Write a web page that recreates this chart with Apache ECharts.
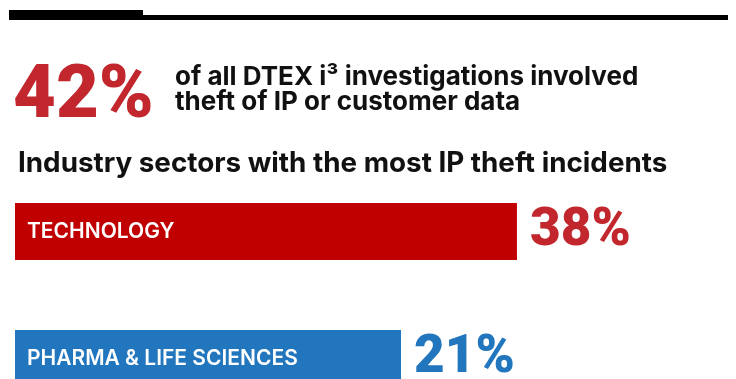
<!DOCTYPE html>
<html>
<head>
<meta charset="utf-8">
<script src="https://cdn.jsdelivr.net/npm/echarts@6/dist/echarts.min.js"></script>
<style>
  html, body { margin: 0; padding: 0; background: #fff; }
  #chart { width: 736px; height: 379px; }
</style>
</head>
<body>
<div id="chart"></div>
<script>
// data
const headlineValue = 42;
const headlineText = ['of all DTEX i\u00b3 investigations involved', 'theft of IP or customer data'];
const chartTitle = 'Industry sectors with the most IP theft incidents';
const sectors = ['TECHNOLOGY', 'PHARMA & LIFE SCIENCES'];
const shares = [38, 21];
const barColors = ['#c00000', '#2176bd'];
const valueColors = ['#c1272d', '#2176bd'];

// every bar in the infographic carries the same fixed lead-in for its label
const labelPad = 35.6;

const font = 'Inter, "Noto Sans", sans-serif';
const numFont = 'Roboto, "Noto Sans", sans-serif';

const chart = echarts.init(document.getElementById('chart'), null, { renderer: 'canvas' });

chart.setOption({
    animation: false,
    backgroundColor: '#fff',
    graphic: [
        { type: 'rect', shape: { x: 9, y: 10, width: 134, height: 10 }, style: { fill: '#000' } },
        { type: 'rect', shape: { x: 143, y: 15, width: 585, height: 5 }, style: { fill: '#000' } },
        {
            type: 'text', left: 13, top: 61,
            style: { text: headlineValue + '%', font: '900 74px ' + numFont, fill: valueColors[0] }
        },
        {
            type: 'text', left: 175, top: 64,
            style: {
                text: headlineText.join('\n'), font: '700 26px ' + font,
                lineHeight: 25, fill: '#111'
            }
        },
        {
            type: 'text', left: 18, top: 150,
            style: { text: chartTitle, font: '700 27.8px ' + font, fill: '#111' }
        }
    ],
    grid: { left: 15, top: 168, width: 652, height: 254, outerBoundsMode: 'none' },
    xAxis: { type: 'value', min: 0, max: 95.6, show: false },
    yAxis: { type: 'category', data: sectors, inverse: true, show: false },
    series: [
        {
            type: 'bar',
            barWidth: 57,
            data: shares.map((v, i) => ({
                value: labelPad + v,
                itemStyle: { color: barColors[i] },
                label: { color: valueColors[i] }
            })),
            label: {
                show: true, position: 'right', distance: 13,
                formatter: p => shares[p.dataIndex] + '%',
                fontFamily: numFont, fontWeight: 900, fontSize: 53
            }
        },
        {
            type: 'bar',
            barWidth: 57,
            barGap: '-100%',
            silent: true,
            data: sectors.map(() => labelPad),
            itemStyle: { color: 'rgba(0,0,0,0)' },
            label: {
                show: true, position: 'insideLeft', distance: 12,
                formatter: '{b}', color: '#fff', overflow: 'none',
                fontFamily: font, fontWeight: 600, fontSize: 21
            }
        }
    ]
});
</script>
</body>
</html>
